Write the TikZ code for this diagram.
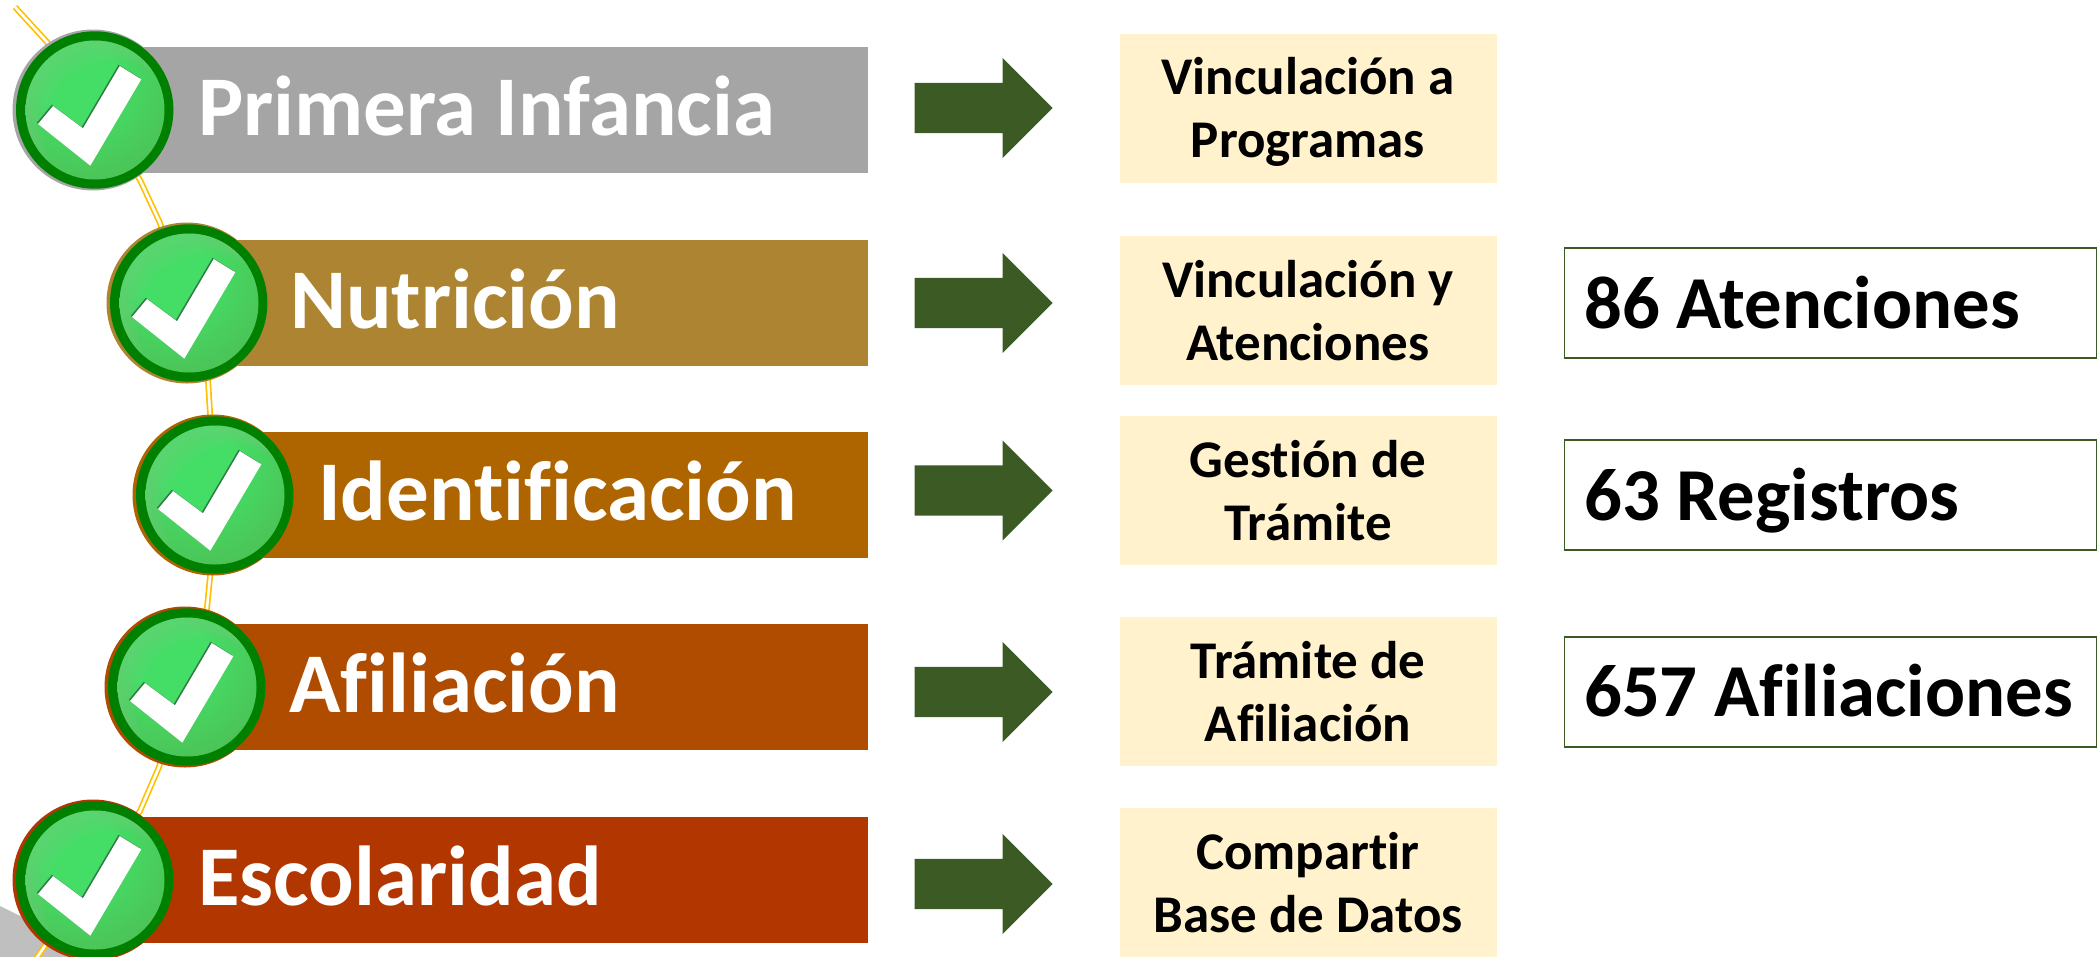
\documentclass[tikz,border=0pt]{standalone}
\usepackage{fontspec}
\setmainfont{Carlito}[Ligatures={NoCommon}]
\usetikzlibrary{shapes.arrows}
\definecolor{gold}{HTML}{FFC000}
\definecolor{cream}{HTML}{FFF2CC}
\definecolor{arrowgreen}{HTML}{3B5A24}
\definecolor{ringgreen}{HTML}{008000}
\definecolor{shadegreen}{HTML}{2E7D46}
\definecolor{wedgegray}{HTML}{BFBFBF}
\definecolor{cA}{HTML}{A5A5A5}
\definecolor{cB}{HTML}{AD8431}
\definecolor{cC}{HTML}{AE6500}
\definecolor{cD}{HTML}{B04C00}
\definecolor{cE}{HTML}{B23600}
\definecolor{gloA}{HTML}{44DD66}
\definecolor{gloB}{HTML}{4CC458}
\definecolor{gloC}{HTML}{45B048}
\definecolor{gloD}{HTML}{42AC46}
\definecolor{glowedge}{HTML}{86C886}
\pgfdeclareradialshading{chkshade}{\pgfpoint{0bp}{0bp}}{%
  color(0bp)=(gloA);
  color(8bp)=(gloA);
  color(21bp)=(gloB);
  color(36bp)=(gloC);
  color(50bp)=(gloD)}
\tikzset{
  x=1pt,y=-1pt,
  barbox/.style={rectangle,draw=none,inner sep=0pt,minimum width=800pt,minimum height=126pt,anchor=east},
  bartext/.style={anchor=base west,inner sep=0pt,text=white,font=\fontsize{85}{85}\selectfont\bfseries},
  stagebox/.style={rectangle,fill=cream,inner sep=0pt,minimum width=377pt,minimum height=149pt,anchor=center},
  stagetext/.style={anchor=center,inner sep=0pt,align=center,text=black,font=\fontsize{53}{63}\selectfont\bfseries},
  resultbox/.style={rectangle,draw=arrowgreen,line width=1.5pt,fill=white,inner sep=0pt,minimum width=532pt,minimum height=110pt,anchor=center},
  resulttext/.style={anchor=base west,inner sep=0pt,text=black,font=\fontsize{74.7}{75}\selectfont\bfseries},
  flowarrow/.style={single arrow,fill=arrowgreen,draw=none,inner xsep=0pt,inner ysep=25pt,minimum width=100pt,minimum height=138pt,
    single arrow head extend=25pt,single arrow tip angle=90,anchor=tip},
  medal/.style={circle,draw=none,inner sep=0pt,minimum size=161pt},
  goldline/.style={draw=gold,line width=1.7pt,double=white,double distance=2.6pt},
  rimglow/.style={fill=glowedge,opacity=0.13,even odd rule}
}
% #1 name, #2 x, #3 y, #4 edge colour
\newcommand{\medalat}[4]{%
  \node[medal,fill=#4] (#1) at (#2,#3) {};
  \fill[ringgreen] ([xshift=1.7pt]#1.center) circle[radius=78.7];
  \begin{scope}
    \clip ([xshift=2pt]#1.center) circle[radius=69.5];
    \shade[shading=chkshade] ([xshift=-15pt,yshift=30pt]#1.center) circle[radius=120];
    \fill[rimglow] ([xshift=-90pt,yshift=-90pt]#1.center) rectangle ([xshift=90pt,yshift=90pt]#1.center)
      ([xshift=8pt,yshift=-8pt]#1.center) circle[radius=70];
    \fill[rimglow] ([xshift=-90pt,yshift=-90pt]#1.center) rectangle ([xshift=90pt,yshift=90pt]#1.center)
      ([xshift=14pt,yshift=-14pt]#1.center) circle[radius=70];
    \fill[rimglow] ([xshift=-90pt,yshift=-90pt]#1.center) rectangle ([xshift=90pt,yshift=90pt]#1.center)
      ([xshift=20pt,yshift=-20pt]#1.center) circle[radius=70];
  \end{scope}
  \begin{scope}[shift={(#1.center)}]
    \fill[shadegreen] (-56.2,12.8) -- (-41.2,-5.2) -- (-11.2,17.1) -- (25.5,-45.2) -- (47.1,-31.9) -- (-3.9,54.5) -- cycle;
    \fill[white] (-55,14) -- (-40,-4) -- (-10,18.3) -- (26.7,-44) -- (48.3,-30.7) -- (-2.7,55.7) -- cycle;
  \end{scope}
}
\begin{document}
\begin{tikzpicture}
\useasboundingbox (0,0) rectangle (2098,956);
\clip (0,0) rectangle (2098,956);
\fill[wedgegray] (0,906) -- (130,970) -- (0,970) -- cycle;
\coordinate (g0) at (15,7);
\coordinate (g1) at (47,42);
\coordinate (g2) at (140,180);
\coordinate (g3) at (160,223);
\coordinate (g4) at (208,380);
\coordinate (g5) at (210,413);
\coordinate (g6) at (210,577);
\coordinate (g7) at (207,608);
\coordinate (g8) at (159,767);
\coordinate (g9) at (140,811);
\coordinate (g10) at (40,953);
\coordinate (g11) at (25,975);
\draw[goldline] (g0) -- (g1) -- (g2) -- (g3) -- (g4) -- (g5) -- (g6) -- (g7) -- (g8) -- (g9) -- (g10) -- (g11);

\node[barbox,fill=cA] (b1) at (868,110) {};
\node[barbox,fill=cB,minimum width=700pt] (b2) at (868,302.5) {};
\node[barbox,fill=cC,minimum width=680pt] (b3) at (868,495) {};
\node[barbox,fill=cD,minimum width=700pt] (b4) at (868,687) {};
\node[barbox,fill=cE] (b5) at (868,880) {};

\medalat{m1}{93}{110}{cA}
\medalat{m2}{187}{303}{cB}
\medalat{m3}{213}{495}{cC}
\medalat{m4}{185}{687}{cD}
\medalat{m5}{93}{880}{cE}

\node[bartext] (t1) at (198,135) {Primera Infancia};
\node[bartext] (t2) at (290,328) {Nutrición};
\node[bartext] (t3) at (318,520) {Identificación};
\node[bartext] (t4) at (289,712) {Afiliación};
\node[bartext] (t5) at (198,905) {Escolaridad};

\node[flowarrow] (a1) at (1053,108) {};
\node[flowarrow] (a2) at (1053,303) {};
\node[flowarrow] (a3) at (1053,490.5) {};
\node[flowarrow] (a4) at (1053,692) {};
\node[flowarrow] (a5) at (1053,884) {};

\node[stagebox] (s1) at (1308.5,108.5) {};
\node[stagebox] (s2) at (1308.5,310.5) {};
\node[stagebox] (s3) at (1308.5,490.5) {};
\node[stagebox] (s4) at (1308.5,691.5) {};
\node[stagebox] (s5) at (1308.5,882.5) {};
\node[stagetext] (st1) at (1308,112) {Vinculación a\\Programas};
\node[stagetext] (st2) at (1308,311) {Vinculación y\\Atenciones};
\node[stagetext] (st3) at (1308,491) {Gestión de\\Trámite};
\node[stagetext] (st4) at (1308,692) {Trámite de\\Afiliación};
\node[stagetext] (st5) at (1308,883) {Compartir\\Base de Datos};

\node[resultbox] (r1) at (1830.5,303) {};
\node[resultbox] (r2) at (1830.5,495) {};
\node[resultbox] (r3) at (1830.5,692) {};
\node[resulttext] (rt1) at (1584,328.5) {86 Atenciones};
\node[resulttext] (rt2) at (1584,520) {63 Registros};
\node[resulttext] (rt3) at (1584,716.5) {657 Afiliaciones};
\end{tikzpicture}
\end{document}
